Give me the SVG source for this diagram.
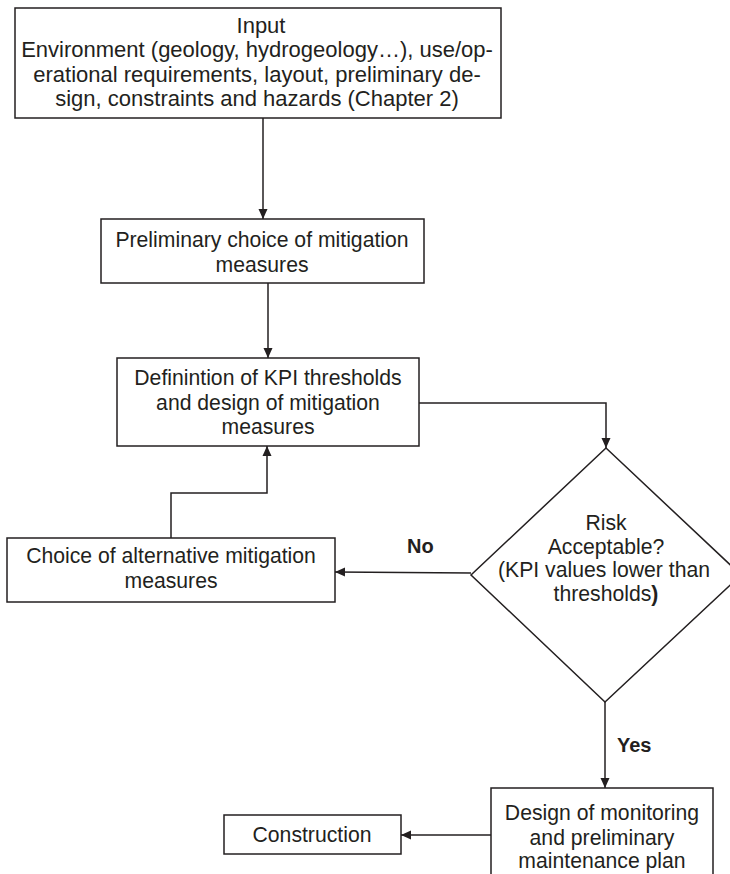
<svg xmlns="http://www.w3.org/2000/svg" width="730" height="874" viewBox="0 0 730 874">
  <style>
    .box { fill: #ffffff; stroke: #231f20; stroke-width: 1.5; }
    .lbl { font-family: "Liberation Sans", Arial, sans-serif; font-size: 21.2px; fill: #231f20; text-anchor: middle; }
    .big { font-size: 22px; }
    .tag { font-family: "Liberation Sans", Arial, sans-serif; font-size: 20px; font-weight: bold; fill: #231f20; }
    .wire { fill: none; stroke: #231f20; stroke-width: 1.5; }
  </style>
  <defs>
    <marker id="arrow" viewBox="0 0 10 10" refX="10" refY="5" markerWidth="10" markerHeight="10" markerUnits="userSpaceOnUse" orient="auto">
      <path d="M0,0.5 L10,5 L0,9.5 Z" fill="#231f20"/>
    </marker>
  </defs>
  <rect width="730" height="874" fill="#ffffff"/>

  <g id="input">
    <rect class="box" x="15" y="8" width="486" height="110"/>
    <text class="lbl big" x="261" y="33">Input</text>
    <text class="lbl big" x="257" y="57">Environment (geology, hydrogeology…), use/op-</text>
    <text class="lbl big" x="257" y="82">erational requirements, layout, preliminary de-</text>
    <text class="lbl big" x="257" y="106">sign, constraints and hazards (Chapter 2)</text>
  </g>

  <g id="preliminary-choice">
    <rect class="box" x="101" y="219" width="323" height="64"/>
    <text class="lbl" x="262" y="247">Preliminary choice of mitigation</text>
    <text class="lbl" x="262" y="272">measures</text>
  </g>

  <g id="kpi-definition">
    <rect class="box" x="117" y="358" width="302" height="88"/>
    <text class="lbl" x="268" y="385">Definintion of KPI thresholds</text>
    <text class="lbl" x="268" y="410">and design of mitigation</text>
    <text class="lbl" x="268" y="434">measures</text>
  </g>

  <g id="risk-decision">
    <polygon class="box" points="606,448 741,575 605,702 471,575"/>
    <text class="lbl" x="606" y="530">Risk</text>
    <text class="lbl" x="606" y="554">Acceptable?</text>
    <text class="lbl" x="604" y="577">(KPI values lower than</text>
    <text class="lbl" x="606" y="601">thresholds<tspan font-weight="bold">)</tspan></text>
  </g>

  <g id="alternative-choice">
    <rect class="box" x="7" y="538" width="328" height="64"/>
    <text class="lbl" x="171" y="563">Choice of alternative mitigation</text>
    <text class="lbl" x="171" y="588">measures</text>
  </g>

  <g id="monitoring-design">
    <path class="box" d="M491,876 L491,788 L713,788 L713,876"/>
    <text class="lbl" x="602" y="820">Design of monitoring</text>
    <text class="lbl" x="602" y="845">and preliminary</text>
    <text class="lbl" x="602" y="868">maintenance plan</text>
  </g>

  <g id="construction">
    <rect class="box" x="224" y="815" width="177" height="39"/>
    <text class="lbl" x="312" y="842">Construction</text>
  </g>

  <g id="connectors">
    <line class="wire" x1="263" y1="118" x2="263" y2="219" marker-end="url(#arrow)"/>
    <line class="wire" x1="268" y1="283" x2="268" y2="358" marker-end="url(#arrow)"/>
    <polyline class="wire" points="419,403 606,403 606,448" marker-end="url(#arrow)"/>
    <line class="wire" x1="471" y1="573" x2="335" y2="572" marker-end="url(#arrow)"/>
    <polyline class="wire" points="171,538 171,493 267,493 267,446" marker-end="url(#arrow)"/>
    <line class="wire" x1="605" y1="702" x2="605" y2="788" marker-end="url(#arrow)"/>
    <line class="wire" x1="491" y1="835" x2="401" y2="835" marker-end="url(#arrow)"/>
    <text class="tag" x="407" y="553">No</text>
    <text class="tag" x="617" y="752">Yes</text>
  </g>
</svg>
